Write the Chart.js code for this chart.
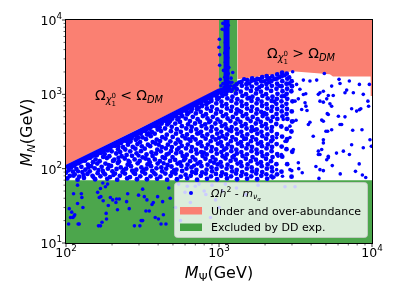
<!DOCTYPE html>
<html><head><meta charset="utf-8">
<script src="https://cdn.jsdelivr.net/npm/chart.js@4/dist/chart.umd.min.js"></script>
<style>html,body{margin:0;padding:0;background:#fff}</style>
</head><body>
<canvas id="c" width="400" height="300" style="width:400px;height:300px"></canvas>
<script>
// axis ticks (GeV)
const xTicks = [100, 1000, 10000];
const yTicks = [10, 100, 1000, 10000];
// excluded regions (boundaries, GeV)
const redLeft = [[100,112],[1000,1180]];
const redRight = [[1318,1590],[2150,1800],[3000,2040],[5300,1860],[5560,1740],[9800,1740],[9800,950],[10000,950]];
const ddColumn = [[1000,1060],[1318,1060]];
const ddFloor = [[100,70],[10000,70]];
// dense edges of the scan
const diagEdge = [[100,102],[300,310],[1000,1090],[1120,1150]];
const colCore = [[1120,1100],[1120,10000]];
const colPts = [[1005,5500],[1000,4300],[1010,2460],[1020,1590],[1230,1970],[1215,1450],[1040,1150],[1080,1250],[1170,1200],[1220,1150],[1060,1400],[1180,1450],[1090,1700],[1150,1900],[1030,1300],[1250,1300],[1200,1650],[1070,2100],[1160,2300],[1100,2700],[1140,3100],[1090,3600],[1150,4200],[1100,5000],[1130,6000],[1095,7200],[1150,8500],[1010,3400],[1190,1300],[1050,7500],[1060,9000]];
const denseA = [[102,74],[100,88],[104,95],[106,80],[111,91],[108,103],[119,71],[114,84],[117,99],[113,110],[122,78],[128,90],[126,106],[121,119],[131,75],[138,85],[134,97],[139,113],[133,128],[149,80],[143,92],[146,108],[150,122],[144,140],[155,72],[161,87],[154,101],[160,117],[156,133],[159,152],[168,79],[174,93],[171,106],[166,126],[175,144],[169,163],[186,73],[180,84],[188,100],[181,117],[185,139],[179,157],[187,176],[194,77],[201,92],[197,109],[203,127],[192,147],[199,171],[194,189],[216,71],[209,86],[214,99],[218,119],[207,132],[213,160],[219,182],[210,203],[225,80],[234,90],[228,104],[222,125],[231,147],[226,167],[236,194],[229,221],[251,74],[243,86],[247,100],[253,113],[242,137],[249,153],[244,181],[254,210],[247,236],[262,77],[271,94],[266,108],[260,122],[270,149],[263,171],[273,196],[264,232],[268,255],[291,72],[283,85],[288,97],[294,118],[281,133],[289,161],[284,186],[293,214],[286,244],[290,272],[306,79],[315,91],[311,104],[303,127],[317,142],[309,172],[313,200],[305,228],[316,263],[308,296]];
const denseB = [[338,72],[329,86],[335,100],[341,114],[331,137],[336,155],[327,186],[343,210],[333,249],[339,288],[330,320],[357,79],[366,93],[360,108],[353,121],[368,148],[362,166],[355,201],[369,228],[358,274],[364,312],[352,347],[394,73],[384,84],[390,101],[397,117],[381,133],[388,160],[395,180],[385,218],[392,246],[380,296],[398,336],[387,372],[414,78],[425,92],[420,104],[411,126],[428,143],[417,171],[423,195],[412,235],[426,265],[418,320],[409,362],[422,404],[458,71],[446,86],[452,100],[461,112],[443,138],[455,155],[449,187],[463,210],[447,254],[456,287],[444,347],[459,394],[450,437],[483,80],[494,89],[489,107],[479,127],[497,143],[486,173],[492,195],[481,233],[498,267],[485,319],[491,365],[478,434],[495,470],[531,72],[520,86],[527,97],[536,117],[517,131],[525,161],[533,180],[521,218],[538,246],[524,296],[530,339],[518,404],[535,460],[523,508],[562,78],[574,93],[568,109],[557,121],[579,148],[565,166],[571,202],[559,228],[577,274],[563,313],[572,373],[556,426],[575,510],[564,549],[619,74],[605,83],[613,100],[623,113],[602,137],[616,154],[609,187],[625,211],[604,255],[618,288],[611,347],[627,395],[606,472],[620,538],[612,593],[654,80],[667,90],[661,104],[648,126],[672,143],[657,172],[665,195],[651,236],[670,266],[656,321],[663,364],[646,437],[674,498],[659,597],[666,640],[719,71],[705,87],[712,96],[724,117],[701,132],[716,160],[708,180],[727,217],[703,247],[721,297],[711,337],[698,405],[725,462],[706,553],[718,628],[713,695],[761,80],[776,89],[768,108],[754,122],[781,148],[765,167],[772,201],[758,227],[779,274],[763,313],[770,374],[751,425],[784,511],[760,582],[775,697],[766,745],[835,73],[820,86],[829,97],[842,113],[816,136],[832,155],[824,187],[845,211],[818,253],[838,288],[826,348],[812,395],[841,473],[822,540],[834,645],[827,736],[819,805],[887,79],[901,92],[894,104],[880,126],[908,143],[890,172],[898,195],[883,234],[905,267],[887,320],[896,364],[878,437],[911,498],[885,598],[900,680],[892,815],[888,866],[971,72],[955,85],[964,99],[979,114],[950,132],[968,159],[959,181],[983,217],[952,247],[974,296],[962,338],[947,405],[977,461],[957,552],[970,629],[960,755],[975,859],[966,930]];
const denseC = [[1032,80],[1048,89],[1040,107],[1025,122],[1056,147],[1036,167],[1045,201],[1029,228],[1053,273],[1034,313],[1043,374],[1022,426],[1059,510],[1031,582],[1047,697],[1037,795],[1052,952],[1040,1040],[1128,74],[1110,84],[1121,100],[1137,113],[1104,137],[1125,155],[1115,188],[1141,212],[1107,254],[1130,288],[1118,348],[1101,394],[1138,473],[1113,539],[1127,645],[1116,736],[1134,880],[1109,1005],[1124,1090],[1200,79],[1218,92],[1209,105],[1191,127],[1226,143],[1204,172],[1213,196],[1196,234],[1222,266],[1202,321],[1211,363],[1188,437],[1230,497],[1198,598],[1216,680],[1205,816],[1224,928],[1201,1110],[1312,72],[1293,86],[1305,96],[1322,117],[1286,132],[1309,160],[1298,180],[1327,217],[1289,247],[1316,296],[1302,338],[1283,405],[1320,462],[1295,552],[1311,629],[1299,755],[1318,859],[1290,1030],[1307,1175],[1300,1360],[1396,80],[1416,90],[1406,108],[1386,122],[1425,148],[1400,167],[1411,201],[1391,227],[1420,274],[1398,313],[1409,374],[1382,425],[1428,511],[1394,582],[1414,697],[1401,795],[1422,952],[1389,1085],[1410,1300],[1403,1470],[1526,73],[1505,84],[1518,100],[1537,114],[1497,136],[1522,156],[1510,187],[1542,212],[1500,253],[1530,289],[1514,347],[1493,396],[1534,472],[1507,540],[1525,644],[1511,737],[1538,880],[1502,1005],[1520,1200],[1509,1375],[1528,1555],[1625,79],[1647,92],[1636,104],[1614,126],[1656,143],[1630,172],[1642,196],[1619,234],[1651,266],[1627,321],[1639,363],[1610,437],[1660,497],[1622,598],[1645,680],[1631,816],[1654,928],[1617,1110],[1640,1270],[1628,1520],[1648,1640],[1775,72],[1752,86],[1766,96],[1787,117],[1743,132],[1771,160],[1758,180],[1792,217],[1748,247],[1780,296],[1762,338],[1740,405],[1785,462],[1755,552],[1774,629],[1760,755],[1789,859],[1746,1030],[1768,1175],[1757,1400],[1778,1610],[1891,80],[1915,90],[1903,108],[1879,122],[1925,148],[1896,167],[1909,201],[1884,227],[1919,274],[1893,313],[1906,374],[1875,425],[1929,511],[1887,582],[1912,697],[1897,795],[1922,952],[1881,1085],[1905,1300],[1890,1490],[1915,1700],[2064,73],[2040,84],[2054,100],[2078,114],[2029,136],[2060,156],[2045,187],[2083,212],[2034,253],[2069,289],[2049,347],[2024,396],[2074,472],[2038,540],[2062,644],[2046,737],[2080,880],[2031,1005],[2057,1200],[2042,1375],[2071,1580],[2050,1760],[2201,79],[2227,92],[2214,104],[2188,126],[2238,143],[2207,172],[2221,196],[2194,234],[2232,266],[2204,321],[2218,363],[2184,437],[2243,497],[2198,598],[2225,680],[2209,816],[2236,928],[2191,1110],[2216,1300],[2202,1510],[2230,1740],[2395,84],[2372,115],[2401,157],[2380,214],[2392,292],[2368,399],[2405,467],[2377,545],[2398,637],[2371,745],[2389,870],[2410,1017],[2375,1188],[2396,1389],[2383,1623],[2402,1850],[2561,91],[2590,145],[2567,198],[2584,270],[2555,369],[2597,504],[2570,589],[2588,689],[2559,805],[2580,941],[2600,1100],[2565,1285],[2592,1502],[2572,1755],[2585,1950],[2790,115],[2760,183],[2785,250],[2770,342],[2798,467],[2765,545],[2782,637],[2757,745],[2793,870],[2768,1017],[2788,1188],[2762,1389],[2795,1623],[2773,1897],[2980,78],[3010,169],[2975,316],[3005,431],[2990,589],[3020,805],[2970,1100],[3000,1285],[2985,1502]];
// extra points filling the densest stretches
const denseD = [[112,80],[120,92],[130,82],[140,104],[151,77],[163,96],[176,88],[190,112],[204,82],[220,140],[238,96],[256,128],[276,88],[298,150],[322,96],[347,132],[375,88],[404,210],[435,118],[470,160],[507,95],[546,190],[589,130],[636,250],[686,110],[739,300],[797,165],[860,420],[927,120],[1000,260],[1079,180],[1163,330],[1255,150],[1353,600],[1459,250],[1574,900],[1698,330],[1832,1250],[1976,560],[2131,1450],[2298,800],[2480,1300],[2680,950],[2880,1700],[1163,1180],[1255,1250],[1353,1450],[1459,1600],[1574,1400],[1698,1550],[1832,1600],[1976,1500],[2131,1650],[2298,1600],[2480,1700],[2680,1800],[2880,1400],[220,200],[256,230],[298,260],[347,300],[404,350],[470,410],[546,480],[636,570],[739,660],[860,780],[1000,900]];
const sparsePts = [[3030,2010],[3560,1555],[3930,1510],[4350,1555],[4880,1910],[6090,1590],[7110,1510],[8270,1360],[9610,1360],[5450,1290],[6180,1400],[6830,1140],[6660,1050],[4570,1050],[4810,1100],[4460,1000],[5180,966],[5060,870],[4570,810],[4810,785],[5580,966],[7550,1050],[8770,1000],[9400,810],[9500,690],[7360,640],[7930,595],[8270,620],[8450,640],[5310,745],[5450,690],[5180,536],[5100,550],[4690,450],[4810,435],[6030,508],[6180,393],[6330,393],[6660,498],[3930,421],[3840,393],[4130,273],[4810,245],[4810,222],[5000,318],[5130,318],[5450,334],[4690,181],[4460,172],[5180,147],[5860,162],[6500,172],[7360,210],[7480,328],[8600,334],[9700,245],[9900,200],[8770,191],[2380,260],[2260,245],[2700,233],[2770,233],[2910,262],[3060,181],[2430,147],[2560,150],[2630,460],[2910,373],[3190,449],[3060,435],[2560,155],[2380,97],[2240,75],[2290,77],[2600,79],[2910,97],[2990,94],[3320,100],[4300,107],[4570,97],[4810,94],[4500,74],[5060,132],[5180,140],[4460,155],[8250,116],[8650,82],[7120,155],[4570,155],[3500,88],[6200,85],[7800,92],[9100,76],[5500,110],[3300,120],[3215,1360],[3380,1170],[3560,996],[3650,770],[3700,693],[3760,607],[3690,1020],[3300,870],[3140,810],[3470,625]];
const lowPts = [[119,60],[112,46],[126,46],[127,41],[105,29],[119,34],[129,30],[109,26],[113,23],[111,22],[107,22],[114,24],[120,18],[122,18],[104,18],[174,64],[187,62],[181,57],[168,54],[161,48],[165,41],[175,37],[169,42],[195,41],[202,38],[214,39],[223,39],[212,35],[189,32],[183,25],[184,21],[172,19],[163,17],[168,17],[217,28],[253,46],[259,29],[249,36],[317,53],[298,44],[325,42],[338,38],[333,27],[310,20],[317,20],[280,17],[304,17],[372,35],[397,42],[365,33],[383,22],[402,21],[350,27],[428,36],[433,24],[418,18],[450,18],[470,55],[480,40],[520,30],[545,62],[600,48],[650,35],[700,58],[760,27],[820,45],[900,60],[950,38],[1050,50],[1100,62],[560,20],[680,16],[880,22],[1000,30],[620,58],[740,62],[800,50],[2700,57],[3140,57],[1300,55],[1800,60],[1500,45]];

const BLUE = '#0000ff', SALMON = '#fa8072', GREEN = 'rgb(76,166,76)';
const FONT = '"DejaVu Sans"';
const P = a => a.map(([x, y]) => ({x, y}));

function rich(ctx, parts, x, y, size, align) {
  const lay = []; let cx = 0, ps = 0;
  for (const p of parts) {
    const fs = size * (p.s || 1);
    const font = (p.it ? 'italic ' : '') + fs.toFixed(2) + 'px ' + FONT;
    ctx.font = font;
    const w = ctx.measureText(p.t).width;
    let px;
    if (p.stack) { px = ps; cx = Math.max(cx, ps + w); }
    else { px = cx + (p.pad || 0) * size; ps = px; cx = px + w; }
    lay.push([p, font, px]);
  }
  const ox = align === 'center' ? x - cx / 2 : align === 'right' ? x - cx : x;
  ctx.textAlign = 'left'; ctx.textBaseline = 'alphabetic';
  for (const [p, font, px] of lay) { ctx.font = font; ctx.fillText(p.t, ox + px, y - (p.dy || 0) * size); }
  return cx;
}

const decor = {
  id: 'decor',
  afterDatasetsDraw(chart) {
    const ctx = chart.ctx, ca = chart.chartArea, xs = chart.scales.x, ys = chart.scales.y;
    ctx.save();
    ctx.fillStyle = '#000';
    // region annotations
    const lt = [{t:'Ω'},{t:'χ',it:1,s:0.7,dy:-0.22},{t:'1',s:0.5,dy:-0.45},{t:'0',s:0.5,dy:0.12,stack:1},{t:'<',pad:0.3},{t:'Ω',pad:0.3},{t:'DM',it:1,s:0.7,dy:-0.22}];
    const gt = lt.map(p => p.t === '<' ? Object.assign({}, p, {t:'>'}) : p);
    rich(ctx, lt, 129, 100, 14, 'center');
    rich(ctx, gt, 301, 58, 14, 'center');
    // frame
    ctx.strokeStyle = '#000'; ctx.lineWidth = 1;
    ctx.strokeRect(ca.left - 0.5, ca.top - 0.5, ca.right - ca.left + 1, ca.bottom - ca.top + 1);
    // ticks
    ctx.lineWidth = 0.8;
    const minorsOf = (lo, hi) => { const r = []; for (let d = lo; d < hi; d *= 10) for (let m = 2; m <= 9; m++) r.push(d * m); return r; };
    ctx.beginPath();
    for (const v of xTicks) { const px = xs.getPixelForValue(v); ctx.moveTo(px, ca.bottom + 0.5); ctx.lineTo(px, ca.bottom + 4); }
    for (const v of yTicks) { const py = ys.getPixelForValue(v); ctx.moveTo(ca.left - 0.5, py); ctx.lineTo(ca.left - 4, py); }
    ctx.stroke();
    ctx.lineWidth = 0.6; ctx.beginPath();
    for (const v of minorsOf(100, 10000)) { const px = xs.getPixelForValue(v); ctx.moveTo(px, ca.bottom + 0.5); ctx.lineTo(px, ca.bottom + 2.5); }
    for (const v of minorsOf(10, 10000)) { const py = ys.getPixelForValue(v); ctx.moveTo(ca.left - 0.5, py); ctx.lineTo(ca.left - 2.5, py); }
    ctx.stroke();
    // tick labels
    const tl = v => [{t:'10'},{t:String(Math.round(Math.log10(v))),s:0.7,dy:0.45}];
    for (const v of xTicks) rich(ctx, tl(v), xs.getPixelForValue(v), 257, 12.5, 'center');
    for (const v of yTicks) rich(ctx, tl(v), 62, ys.getPixelForValue(v) + 5, 12.5, 'right');
    // axis labels
    rich(ctx, [{t:'M',it:1},{t:'Ψ',s:0.7,dy:-0.22},{t:'(GeV)'}], (ca.left + ca.right) / 2, 277.5, 16, 'center');
    ctx.save(); ctx.translate(31.5, (ca.top + ca.bottom) / 2 + 1); ctx.rotate(-Math.PI / 2);
    rich(ctx, [{t:'M',it:1},{t:'N',it:1,s:0.7,dy:-0.22},{t:'(GeV)'}], 0, 0, 16, 'center');
    ctx.restore();
    // legend
    const L = {l: ca.left + 108, t: ca.top + 162, r: ca.right - 5, b: ca.bottom - 6};
    ctx.beginPath();
    if (ctx.roundRect) ctx.roundRect(L.l + 0.5, L.t + 0.5, L.r - L.l, L.b - L.t, 3); else ctx.rect(L.l + 0.5, L.t + 0.5, L.r - L.l, L.b - L.t);
    ctx.fillStyle = 'rgba(255,255,255,0.8)'; ctx.fill();
    ctx.strokeStyle = 'rgba(204,204,204,0.8)'; ctx.lineWidth = 1; ctx.stroke();
    ctx.fillStyle = BLUE; ctx.beginPath(); ctx.arc(L.l + 17, L.t + 11, 2, 0, Math.PI * 2); ctx.fill();
    ctx.fillStyle = SALMON; ctx.fillRect(L.l + 6, L.t + 25, 22, 7.5);
    ctx.fillStyle = 'rgb(66,161,66)'; ctx.fillRect(L.l + 6, L.t + 41.5, 22, 7.5);
    ctx.fillStyle = '#000';
    rich(ctx, [{t:'Ω',it:1},{t:'h',it:1},{t:'2',s:0.7,dy:0.42},{t:' - '},{t:'m',it:1},{t:'ν',it:1,s:0.7,dy:-0.2},{t:'α',it:1,s:0.5,dy:-0.36}], L.l + 37, L.t + 15, 11, 'left');
    rich(ctx, [{t:'Under and over-abundance'}], L.l + 37, L.t + 33, 11, 'left');
    rich(ctx, [{t:'Excluded by DD exp.'}], L.l + 37, L.t + 49, 11, 'left');
    ctx.restore();
  }
};

const sc = (data, r) => ({type:'scatter', data:P(data), backgroundColor:BLUE, pointRadius:r, pointBorderWidth:0, pointHoverRadius:r});
const ln = (data, w) => ({type:'line', data:P(data), showLine:true, borderColor:BLUE, borderWidth:w, pointRadius:0, fill:false, tension:0, borderCapStyle:'butt'});
const area = (data, color, fill) => ({type:'line', data:P(data), showLine:true, borderWidth:0, borderColor:'rgba(0,0,0,0)', backgroundColor:color, pointRadius:0, fill, tension:0});

new Chart(document.getElementById('c'), {
  type: 'scatter',
  data: { datasets: [
    sc(denseA, 2.4), sc(denseB, 2.4), sc(denseC, 2.4), sc(denseD, 2.2), sc(sparsePts, 1.8), sc(lowPts, 1.8), sc(colPts, 1.8),
    ln(diagEdge, 6), ln(colCore, 6),
    area(ddFloor, GREEN, 'start'), area(ddColumn, GREEN, 'end'),
    area(redLeft, SALMON, 'end'), area(redRight, SALMON, 'end')
  ]},
  options: {
    responsive: false, animation: false, devicePixelRatio: 1, events: [],
    layout: { padding: { left: 66, right: 28, top: 20, bottom: 57 } },
    scales: {
      x: { type: 'logarithmic', min: 100, max: 10000, display: false },
      y: { type: 'logarithmic', min: 10, max: 10000, display: false }
    },
    plugins: { legend: { display: false }, tooltip: { enabled: false } }
  },
  plugins: [decor]
});
</script>
</body></html>
